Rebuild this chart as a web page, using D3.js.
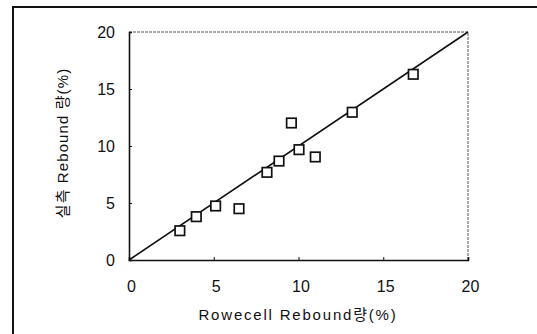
<!DOCTYPE html>
<html>
<head>
<meta charset="utf-8">
<script src="https://cdn.jsdelivr.net/npm/d3@7"></script>
<style>
  html, body { margin: 0; padding: 0; background: #fff; }
  svg { display: block; }
  text { font-family: "Liberation Sans", Arial, "Noto Sans CJK KR", sans-serif; fill: #111; }
</style>
</head>
<body>
<svg id="chart" width="537" height="334"></svg>
<script>
// Rowecell-predicted vs measured rebound (%)
const predicted = [3.0, 3.97, 5.11, 6.49, 8.14, 8.85, 9.58, 10.03, 10.99, 13.17, 16.77];
const measured  = [2.57, 3.8, 4.74, 4.5, 7.69, 8.68, 12.02, 9.68, 9.04, 12.96, 16.29];
const tickValues = [0, 5, 10, 15, 20];
const xTitle = "Rowecell Rebound량(%)";
const yTitle = "실측 Rebound 량(%)";

const svg = d3.select("#chart");
const plotL = 129, plotR = 468, plotT = 32, plotB = 260;

const x = d3.scaleLinear().domain([0, 20]).range([plotL, plotR]);
const y = d3.scaleLinear().domain([0, 20]).range([plotB, plotT]);

// outer frame (top and left edges)
svg.append("line").attr("x1", 12).attr("x2", 537).attr("y1", 7).attr("y2", 7)
  .attr("stroke", "#111").attr("stroke-width", 2);
svg.append("line").attr("x1", 13).attr("x2", 13).attr("y1", 6).attr("y2", 334)
  .attr("stroke", "#111").attr("stroke-width", 2);

// dotted top and right edges of the plot box
svg.append("path")
  .attr("d", `M${plotL},${plotT}H${plotR}V${plotB}`)
  .attr("fill", "none").attr("stroke", "#555").attr("stroke-width", 1)
  .attr("stroke-dasharray", "3,1");

// axes with inward ticks
const xAxis = d3.axisBottom(x).tickValues(tickValues).tickSize(-3).tickPadding(21);
const yAxis = d3.axisLeft(y).tickValues(tickValues).tickSize(-3).tickPadding(14);

const gx = svg.append("g").attr("transform", `translate(0,${plotB})`).call(xAxis);
const gy = svg.append("g").attr("transform", `translate(${plotL},0)`).call(yAxis);
[gx, gy].forEach(g => {
  g.select(".domain").attr("stroke", "#111").attr("stroke-width", 1.6);
  g.selectAll(".tick line").attr("stroke", "#111").attr("stroke-width", 1);
  g.selectAll(".tick text").style("font-size", "16px").attr("fill", "#111");
});
gx.selectAll(".tick text").attr("dx", "2px");
gx.selectAll(".tick").filter(d => d === 0).select("line").remove();
gy.selectAll(".tick").filter(d => d === 0).select("line").remove();

// 1:1 reference line
svg.append("line")
  .attr("x1", x(0)).attr("y1", y(0)).attr("x2", x(20)).attr("y2", y(20))
  .attr("stroke", "#111").attr("stroke-width", 1.6);

// square markers
const s = 9.5;
svg.append("g").selectAll("rect")
  .data(predicted.map((p, i) => [p, measured[i]]))
  .join("rect")
  .attr("x", d => x(d[0]) - s / 2)
  .attr("y", d => y(d[1]) - s / 2)
  .attr("width", s).attr("height", s)
  .attr("fill", "#fff").attr("stroke", "#111").attr("stroke-width", 1.7);

// axis titles
svg.append("text")
  .attr("x", 298).attr("y", 320)
  .attr("text-anchor", "middle").style("font-size", "15px")
  .style("letter-spacing", "1.8px")
  .text(xTitle);
svg.append("text")
  .attr("transform", `translate(68,143) rotate(-90)`)
  .attr("text-anchor", "middle").style("font-size", "15px")
  .style("letter-spacing", "1.1px")
  .text(yTitle);
</script>
</body>
</html>
